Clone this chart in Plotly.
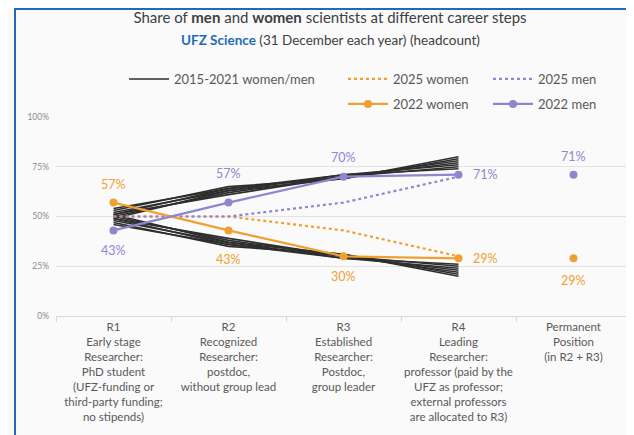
import plotly.graph_objects as go

categories = [
    "R1<br>Early stage<br>Researcher:<br>PhD student<br>(UFZ-funding or<br>third-party funding;<br>no stipends)",
    "R2<br>Recognized<br>Researcher:<br>postdoc,<br>without group lead",
    "R3<br>Established<br>Researcher:<br>Postdoc,<br>group leader",
    "R4<br>Leading<br>Researcher:<br>professor (paid by the<br>UFZ as professor;<br>external professors<br>are allocated to R3)",
    "Permanent<br>Position<br>(in R2 + R3)",
]

years_hist = [2015, 2016, 2017, 2018, 2019, 2020, 2021]
# men share (%) at R1..R4 for 2015-2021; women = 100 - men
men_hist = [
    [52, 63, 69, 80],
    [51, 64, 70, 77],
    [50, 62, 70, 78],
    [49, 63, 71, 76],
    [53, 65, 69, 79],
    [51, 61, 70, 75],
    [54, 64, 71, 74],
]
women_hist = [[100 - v for v in row] for row in men_hist]

women_2025 = [50, 50, 43, 30]
men_2025 = [50, 50, 57, 70]

women_2022 = [57, 43, 30, 29, 29]
men_2022 = [43, 57, 70, 71, 71]

ORANGE = "#F0A030"
PURPLE = "#8F86CF"
DARK = "#2E2E2E"
FONT = "Lato, Carlito, sans-serif"

# page has an 8px body margin, so the figure is drawn 8px in from the corner
W, H = 626, 427
L, R, T, B = 48, 3, 109, 119
PW, PH = W - L - R, H - T - B

fig = go.Figure()

first = True
for row_m, row_w in zip(men_hist, women_hist):
    for row in (row_m, row_w):
        fig.add_trace(go.Scatter(
            x=categories[:4], y=row, mode="lines",
            line=dict(color=DARK, width=1.6),
            name="2015-2021 women/men", legendgroup="hist",
            showlegend=first, legend="legend",
            hoverinfo="skip",
        ))
        first = False

fig.add_trace(go.Scatter(
    x=categories[:4], y=women_2025, mode="lines",
    line=dict(color=ORANGE, width=2.2, dash="dot"),
    name="2025 women", legend="legend2",
))
fig.add_trace(go.Scatter(
    x=categories[:4], y=men_2025, mode="lines",
    line=dict(color=PURPLE, width=2.2, dash="dot"),
    name="2025 men", legend="legend2",
))

fig.add_trace(go.Scatter(
    x=categories[:4], y=women_2022[:4], mode="lines+markers",
    line=dict(color=ORANGE, width=2.2), marker=dict(size=8, color=ORANGE),
    name="2022 women", legend="legend3", legendgroup="w22",
))
fig.add_trace(go.Scatter(
    x=categories[:4], y=men_2022[:4], mode="lines+markers",
    line=dict(color=PURPLE, width=2.2), marker=dict(size=8, color=PURPLE),
    name="2022 men", legend="legend3", legendgroup="m22",
))
fig.add_trace(go.Scatter(
    x=categories[4:], y=women_2022[4:], mode="markers",
    marker=dict(size=8, color=ORANGE), showlegend=False, legendgroup="w22",
))
fig.add_trace(go.Scatter(
    x=categories[4:], y=men_2022[4:], mode="markers",
    marker=dict(size=8, color=PURPLE), showlegend=False, legendgroup="m22",
))

w_shift = [(0, 18), (0, -29), (0, -20), (27, 0), (0, -22)]
m_shift = [(0, -20), (0, 29), (0, 19), (27, 0), (0, 18)]
for vals, shifts, col in ((women_2022, w_shift, ORANGE), (men_2022, m_shift, PURPLE)):
    for cat, v, (dx, dy) in zip(categories, vals, shifts):
        fig.add_annotation(
            x=cat, y=v, text=f"{v}%", showarrow=False,
            xshift=dx, yshift=dy, font=dict(size=12.5, color=col, family=FONT),
        )

fig.add_annotation(
    text="<b style='color:#1F6BB5'>UFZ Science</b> (31 December each year) (headcount)",
    xref="paper", yref="paper", x=(322 - L) / PW, y=(H - B - 32) / PH,
    xanchor="center", yanchor="middle", showarrow=False,
    font=dict(size=13.5, color="#404040", family=FONT),
)

legend_common = dict(
    orientation="h", font=dict(size=13, color="#595959", family=FONT),
    bgcolor="rgba(0,0,0,0)", xanchor="left", yanchor="middle",
    xref="container", yref="container",
    itemwidth=40, tracegroupgap=0,
)
fig.update_layout(
    legend=dict(x=116 / W, y=1 - 71 / H, **legend_common),
    legend2=dict(x=335 / W, y=1 - 71 / H, entrywidth=90, **legend_common),
    legend3=dict(x=335 / W, y=1 - 96 / H, entrywidth=90, **legend_common),
)

fig.update_layout(
    width=W, height=H,
    margin=dict(l=L, r=R, t=T, b=B, autoexpand=False),
    paper_bgcolor="#FAFAFA", plot_bgcolor="#FAFAFA",
    font=dict(family=FONT, color="#595959"),
    title=dict(
        text="Share of <b>men</b> and <b>women</b> scientists at different career steps",
        x=322 / W, xref="container", xanchor="center",
        y=1 - 10 / H, yref="container", yanchor="middle",
        font=dict(size=15, color="#404040", family=FONT),
    ),
    xaxis=dict(
        type="category", categoryorder="array", categoryarray=categories,
        range=[-0.5, 4.5], showgrid=False, zeroline=False, automargin=False,
        showline=True, linecolor="#D9D9D9", linewidth=1, tickangle=0,
        ticks="outside", tickson="boundaries", ticklen=5, tickcolor="#D9D9D9",
        tickfont=dict(size=11.5, color="#595959", family=FONT),
    ),
    yaxis=dict(
        range=[0, 100], tickvals=[0, 25, 50, 75, 100],
        ticktext=["0%", "25%", "50%", "75%", "100%"], automargin=False,
        showgrid=True, gridcolor="#E3E3E3", zeroline=False,
        tickfont=dict(size=8.5, color="#8C8C8C", family=FONT), ticklabelstandoff=6,
    ),
    shapes=[dict(
        type="rect", xref="paper", yref="paper",
        x0=(7 - L) / PW, x1=1.2, y0=-1.0, y1=(H - B - 1) / PH,
        line=dict(color="#1F6BB5", width=2), fillcolor="rgba(0,0,0,0)", layer="below",
    )],
)

fig.write_html("out.html")
